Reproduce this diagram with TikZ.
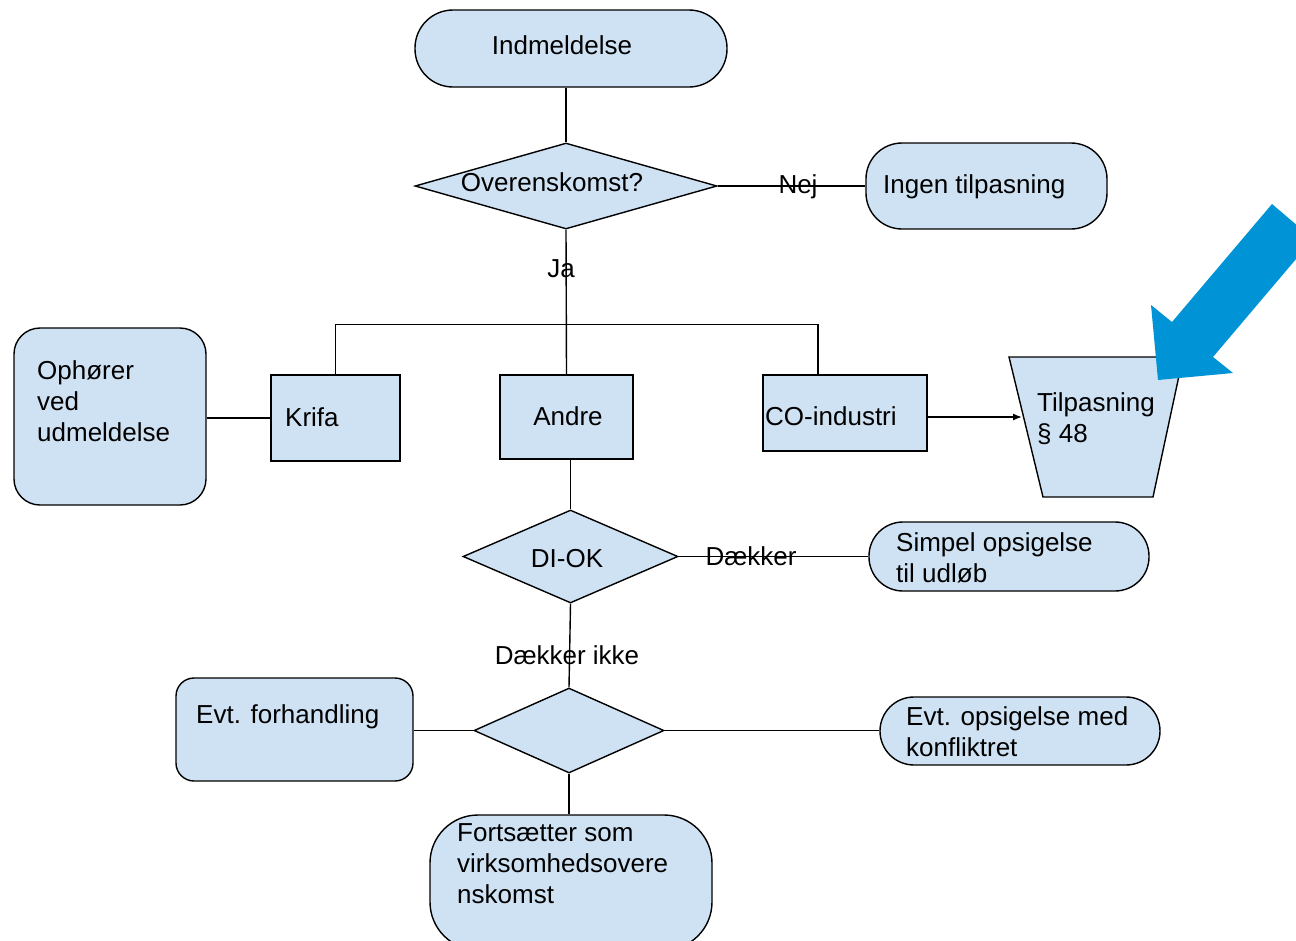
\documentclass[tikz,border=0pt]{standalone}
\usepackage{fontspec}
\setmainfont{Liberation Sans}
\usetikzlibrary{shapes.geometric,arrows.meta}
\definecolor{boxfill}{RGB}{207,226,243}
\definecolor{bluearrow}{RGB}{0,147,214}
\begin{document}
\begin{tikzpicture}[x=1pt,y=-1pt,
  box/.style={draw=black,fill=boxfill,line width=1.4pt,inner sep=0pt},
  rbox/.style={box,rectangle},
  dia/.style={box,diamond},
  txt/.style={inner sep=0pt,font=\fontsize{26}{31}\selectfont,align=left},
  conn/.style={draw=black,line width=1.4pt}]
\clip (0,0) rectangle (1296,940);
\useasboundingbox (0,0) rectangle (1296,940);
% shapes
\node[rbox,rounded corners=38pt,minimum width=312pt,minimum height=77pt] (ind) at (571,48.5) {};
\node[dia,minimum width=302pt,minimum height=86pt,aspect=3.5] (ov) at (566,186) {};
\node[rbox,rounded corners=36pt,minimum width=241pt,minimum height=86pt] (ingen) at (986.5,186) {};
\node[rbox,rounded corners=26pt,minimum width=192pt,minimum height=177pt] (oph) at (110,416.5) {};
\node[rbox,minimum width=129pt,minimum height=86pt] (krifa) at (335.5,418) {};
\node[rbox,minimum width=133pt,minimum height=84pt] (andre) at (566.5,417) {};
\node[rbox,minimum width=164pt,minimum height=76pt] (co) at (845,413) {};
\draw[box] (1009,357) -- (1183,357) -- (1153,497) -- (1043,497) -- cycle;
\coordinate (tilp) at (1022,417);
\node[dia,minimum width=215pt,minimum height=93pt,aspect=2.3] (diok) at (570.5,556.5) {};
\node[rbox,rounded corners=34pt,minimum width=280pt,minimum height=69pt] (simp) at (1009,556.5) {};
\node[dia,minimum width=190pt,minimum height=85pt,aspect=2.24] (d2) at (569,730.5) {};
\node[rbox,rounded corners=18pt,minimum width=237pt,minimum height=103pt] (forh) at (294.5,729.5) {};
\node[rbox,rounded corners=34pt,minimum width=280pt,minimum height=68pt] (opsig) at (1020,731) {};
\node[rbox,rounded corners=48pt,minimum width=282pt,minimum height=135pt] (forts) at (571,882.5) {};
% connectors
\draw[conn] (ov.north |- ind.south) -- (ov.north);
\draw[conn] (ov.east) -- (ingen.west);
\draw[conn] (ov.south) -- (andre.north);
\draw[conn] (krifa.north) -- ++(0,-50) -| ([xshift=-27pt]co.north);
\draw[conn] (oph.east |- krifa.west) -- (krifa.west);
\draw[conn,-{Latex[length=9pt,width=7pt]}] (co.east |- tilp) -- (tilp);
\draw[conn] (diok.north |- andre.south) -- (diok.north);
\draw[conn] (diok.east) -- (simp.west);
\draw[conn] (diok.south) -- (d2.north);
\draw[conn] (forh.east |- d2.west) -- (d2.west);
\draw[conn] (d2.east) -- (opsig.west |- d2.east);
\draw[conn] (d2.south) -- (d2.south |- forts.north);
% blue arrow
\fill[bluearrow] (1158,380) -- (1151,305) -- (1172,322) -- (1272,204) -- (1313,239) -- (1213,357) -- (1233,373) -- cycle;
% texts
\node[txt,anchor=base] (tInd) at (562,54) {Indmeldelse};
\node[txt,anchor=base] (tOv) at (552,191) {Overenskomst?};
\node[txt,anchor=base] (tNej) at (798,193) {Nej};
\node[txt,anchor=base west] (tIngen) at (883,193) {Ingen tilpasning};
\node[txt,anchor=base] (tJa) at (561,277) {Ja};
\node[txt,anchor=base west] (tOph) at (37,441) {Ophører\\ved\\udmeldelse};
\node[txt,anchor=base west] (tKrifa) at (285,426) {Krifa};
\node[txt,anchor=base] (tAndre) at (568,425) {Andre};
\node[txt,anchor=base west] (tCO) at (765,425) {CO-industri};
\node[txt,anchor=base west] (tTilp) at (1037,442) {Tilpasning\\§ 48};
\node[txt,anchor=base] (tDI) at (567,567) {DI-OK};
\node[txt,anchor=base] (tDk) at (751,565) {Dækker};
\node[txt,anchor=base west] (tSimp) at (896,582) {Simpel opsigelse\\til udløb};
\node[txt,anchor=base] (tDki) at (567,664) {Dækker ikke};
\node[txt,anchor=base west] (tForh) at (196,723) {Evt. forhandling};
\node[txt,anchor=base west] (tOps) at (906,756) {Evt. opsigelse med\\konfliktret};
\node[txt,anchor=base west] (tForts) at (457,903) {Fortsætter som\\virksomhedsovere\\nskomst};
\end{tikzpicture}
\end{document}
